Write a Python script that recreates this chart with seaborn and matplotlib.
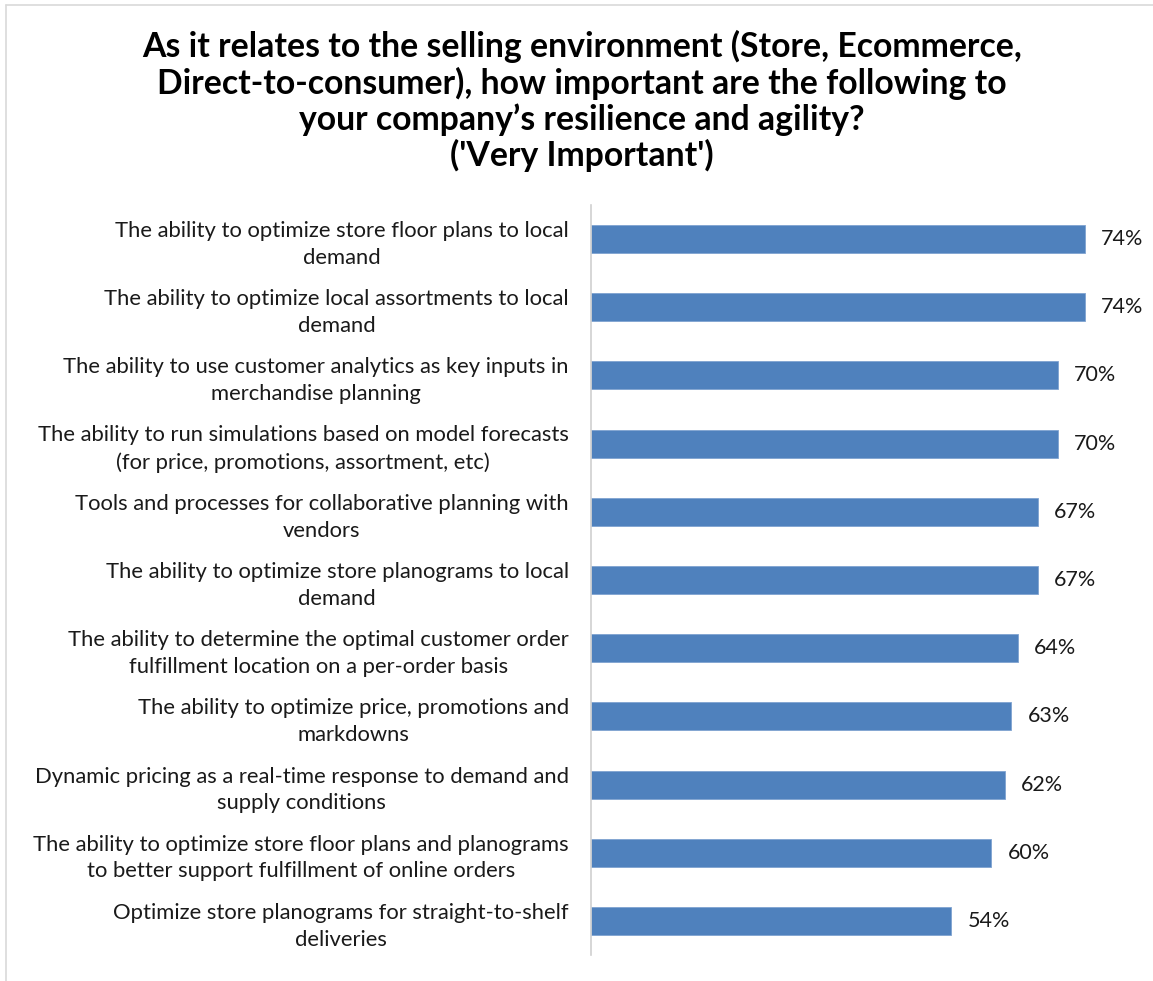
import matplotlib
matplotlib.use("Agg")
import matplotlib.pyplot as plt
from matplotlib.lines import Line2D
import seaborn as sns
import pandas as pd

categories = [
    "The ability to optimize store floor plans to local\ndemand",
    "The ability to optimize local assortments to local\ndemand",
    "The ability to use customer analytics as key inputs in\nmerchandise planning",
    "The ability to run simulations based on model forecasts\n(for price, promotions, assortment, etc)",
    "Tools and processes for collaborative planning with\nvendors",
    "The ability to optimize store planograms to local\ndemand",
    "The ability to determine the optimal customer order\nfulfillment location on a per-order basis",
    "The ability to optimize price, promotions and\nmarkdowns",
    "Dynamic pricing as a real-time response to demand and\nsupply conditions",
    "The ability to optimize store floor plans and planograms\nto better support fulfillment of online orders",
    "Optimize store planograms for straight-to-shelf\ndeliveries",
]
values = [74, 74, 70, 70, 67, 67, 64, 63, 62, 60, 54]

title = ("As it relates to the selling environment (Store, Ecommerce,\n"
         "Direct-to-consumer), how important are the following to\n"
         "your company\u2019s resilience and agility?\n"
         "('Very Important')")

sns.set_style("white")
plt.rcParams["font.family"] = ["Lato", "DejaVu Sans"]

df = pd.DataFrame({"item": categories, "pct": values})

fig = plt.figure(figsize=(11.53, 9.81), dpi=100)
ax = fig.add_axes([591 / 1153, 26 / 981, 1 - 591 / 1153, (955 - 205) / 981])

sns.barplot(data=df, y="item", x="pct", orient="h", color="#4F81BD",
            width=0.41, edgecolor="#7FA3D0", linewidth=0.6, saturation=1, ax=ax)

ax.set_xlim(0, 84.2)
ax.set_ylim(len(categories) - 0.5, -0.5)
ax.set_xlabel("")
ax.set_ylabel("")
ax.set_xticks([])
for s in ["top", "right", "bottom"]:
    ax.spines[s].set_visible(False)
ax.spines["left"].set_color("#D0D0D0")
ax.spines["left"].set_linewidth(1.2)

ax.tick_params(axis="y", length=0, pad=16)
for lab in ax.get_yticklabels():
    lab.set_fontsize(15.8)
    lab.set_multialignment("center")
    lab.set_linespacing(1.42)
    lab.set_color("#1a1a1a")

for i, v in enumerate(values):
    ax.text(v + 2.4, i, f"{v}%", va="center", ha="left", fontsize=15.5, color="#1a1a1a")

fig.text(582 / 1153, 1 - 101 / 981, title, ha="center", va="center",
         fontsize=24.3, fontweight="bold", linespacing=1.13, color="#000000")

# light frame around the chart area
fig.add_artist(Line2D([6 / 1153, 6 / 1153], [0, 1 - 5 / 981], transform=fig.transFigure,
                      color="#D9D9D9", linewidth=1.2))
fig.add_artist(Line2D([6 / 1153, 1], [1 - 5 / 981, 1 - 5 / 981], transform=fig.transFigure,
                      color="#D9D9D9", linewidth=1.2))

fig.savefig("out.png", dpi=100, facecolor="white")
